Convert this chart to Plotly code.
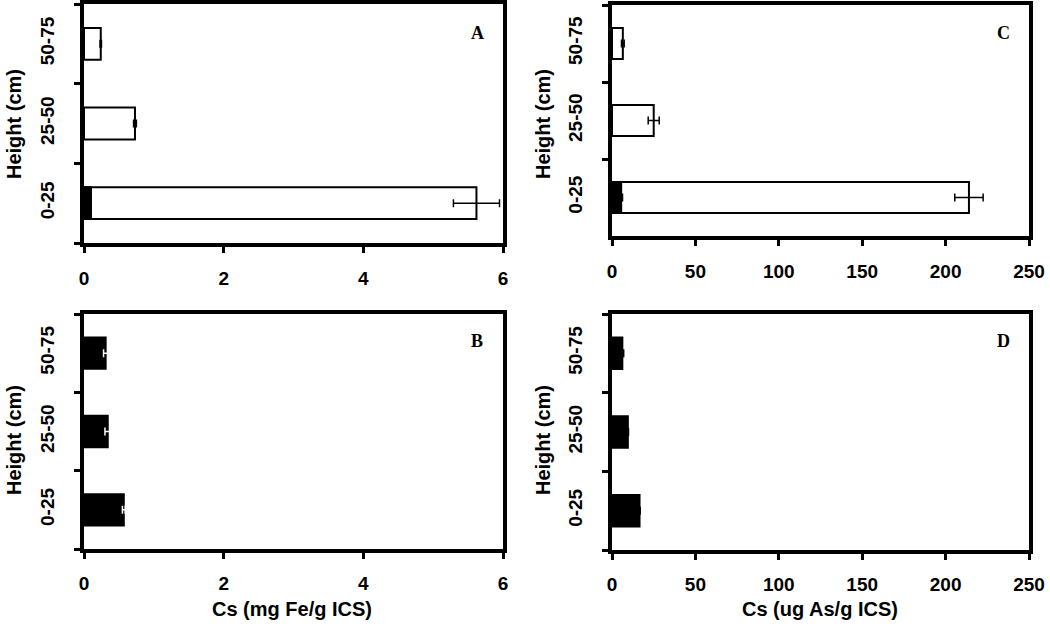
import plotly.graph_objects as go

heights = ['0-25', '25-50', '50-75']

# Panel A: Fe (white = total, black = part)
fe_total_A = [5.62, 0.73, 0.24]
fe_total_A_err = [0.33, 0.02, 0.01]
fe_part_A = [0.10, 0.0, 0.0]
# Panel B
fe_B = [0.57, 0.34, 0.31]
fe_B_err = [0.02, 0.04, 0.03]
# Panel C: As
as_total_C = [214.0, 25.0, 6.5]
as_total_C_err = [8.5, 3.3, 0.8]
as_part_C = [5.5, 0.0, 0.0]
as_part_C_err = [0.8, 0.0, 0.0]
# Panel D
as_D = [16.5, 9.5, 6.2]
as_D_err = [0.4, 0.4, 0.8]

fe_ticks = [0, 2, 4, 6]
as_ticks = [0, 50, 100, 150, 200, 250]

W, H = 1050, 632
SANS = 'Liberation Sans, Arial'
tick_font = dict(family=SANS, size=19, color='black', weight='bold')
title_font = dict(family=SANS, size=20, color='black', weight='bold')

fig = go.Figure()

def add_bar(x, ax, color, err=None, errcolor='black'):
    kw = {}
    if err is not None:
        kw['error_x'] = dict(type='data', array=err, color=errcolor, thickness=1.5, width=4)
    fig.add_trace(go.Bar(
        y=heights, x=x, orientation='h',
        marker=dict(color=color, line=dict(color='black', width=2)),
        xaxis='x' + ax, yaxis='y' + ax, showlegend=False, **kw))

add_bar(fe_total_A, '', 'white', fe_total_A_err)
add_bar(fe_part_A, '', 'black')
add_bar(fe_B, '2', 'black', fe_B_err, 'white')
add_bar(as_total_C, '3', 'white', as_total_C_err)
add_bar(as_part_C, '3', 'black', as_part_C_err)
add_bar(as_D, '4', 'black', as_D_err)

def px_x(p):
    return p / W

def px_y(p):
    return 1 - p / H

def xdom(l, r):
    return [px_x(l), px_x(r)]

def ydom(t, b):
    return [px_y(b), px_y(t)]

def xaxis(dom, anchor, rng, ticks, standoff=9):
    return dict(domain=dom, anchor=anchor, range=rng, tickvals=ticks,
                showline=True, linecolor='black', linewidth=4, mirror=True,
                ticks='outside', ticklen=6, tickwidth=3, tickcolor='black',
                showgrid=False, zeroline=False, tickfont=tick_font,
                ticklabelstandoff=standoff, automargin=False)

def yaxis(dom, anchor):
    return dict(domain=dom, anchor=anchor, type='category',
                categoryorder='array', categoryarray=heights,
                range=[-0.5, 2.5], tickson='boundaries',
                showline=True, linecolor='black', linewidth=4, mirror=True,
                ticks='outside', ticklen=6, tickwidth=3, tickcolor='black',
                showgrid=False, zeroline=False, tickangle=-90,
                tickfont=tick_font, ticklabelstandoff=18, automargin=False)

fig.update_layout(
    width=W, height=H,
    margin=dict(l=0, r=0, t=0, b=0),
    paper_bgcolor='white', plot_bgcolor='white',
    barmode='overlay', bargap=0.6,
    xaxis=xaxis(xdom(84, 503), 'y', [0, 6], fe_ticks),
    yaxis=yaxis(ydom(4, 243), 'x'),
    xaxis2=xaxis(xdom(84, 503), 'y2', [0, 6], fe_ticks, 8),
    yaxis2=yaxis(ydom(314, 549), 'x2'),
    xaxis3=xaxis(xdom(612, 1029), 'y3', [0, 250], as_ticks),
    yaxis3=yaxis(ydom(5, 236), 'x3'),
    xaxis4=xaxis(xdom(612, 1029), 'y4', [0, 250], as_ticks, 8),
    yaxis4=yaxis(ydom(314, 550), 'x4'),
)

def label(text, xp, yp, font, angle=0):
    fig.add_annotation(text=text, x=px_x(xp), y=px_y(yp), xref='paper', yref='paper',
                       xanchor='center', yanchor='middle', showarrow=False,
                       textangle=angle, font=font)

for xp, yp in [(14, 124), (14, 440), (543, 124), (543, 440)]:
    label('Height (cm)', xp, yp, title_font, -90)
label('Cs (mg Fe/g ICS)', 292, 609, title_font)
label('Cs (ug As/g ICS)', 820, 609, title_font)

serif = dict(family='Liberation Serif, Times New Roman', size=18, color='black', weight='bold')
for lab, xp, yp in [('A', 477, 33), ('B', 477, 341), ('C', 1003, 33), ('D', 1003, 341)]:
    label(lab, xp, yp, serif)

fig.write_html('out.html', config={'displayModeBar': False},
               post_script="document.body.style.margin='0';document.body.style.overflow='hidden';")
